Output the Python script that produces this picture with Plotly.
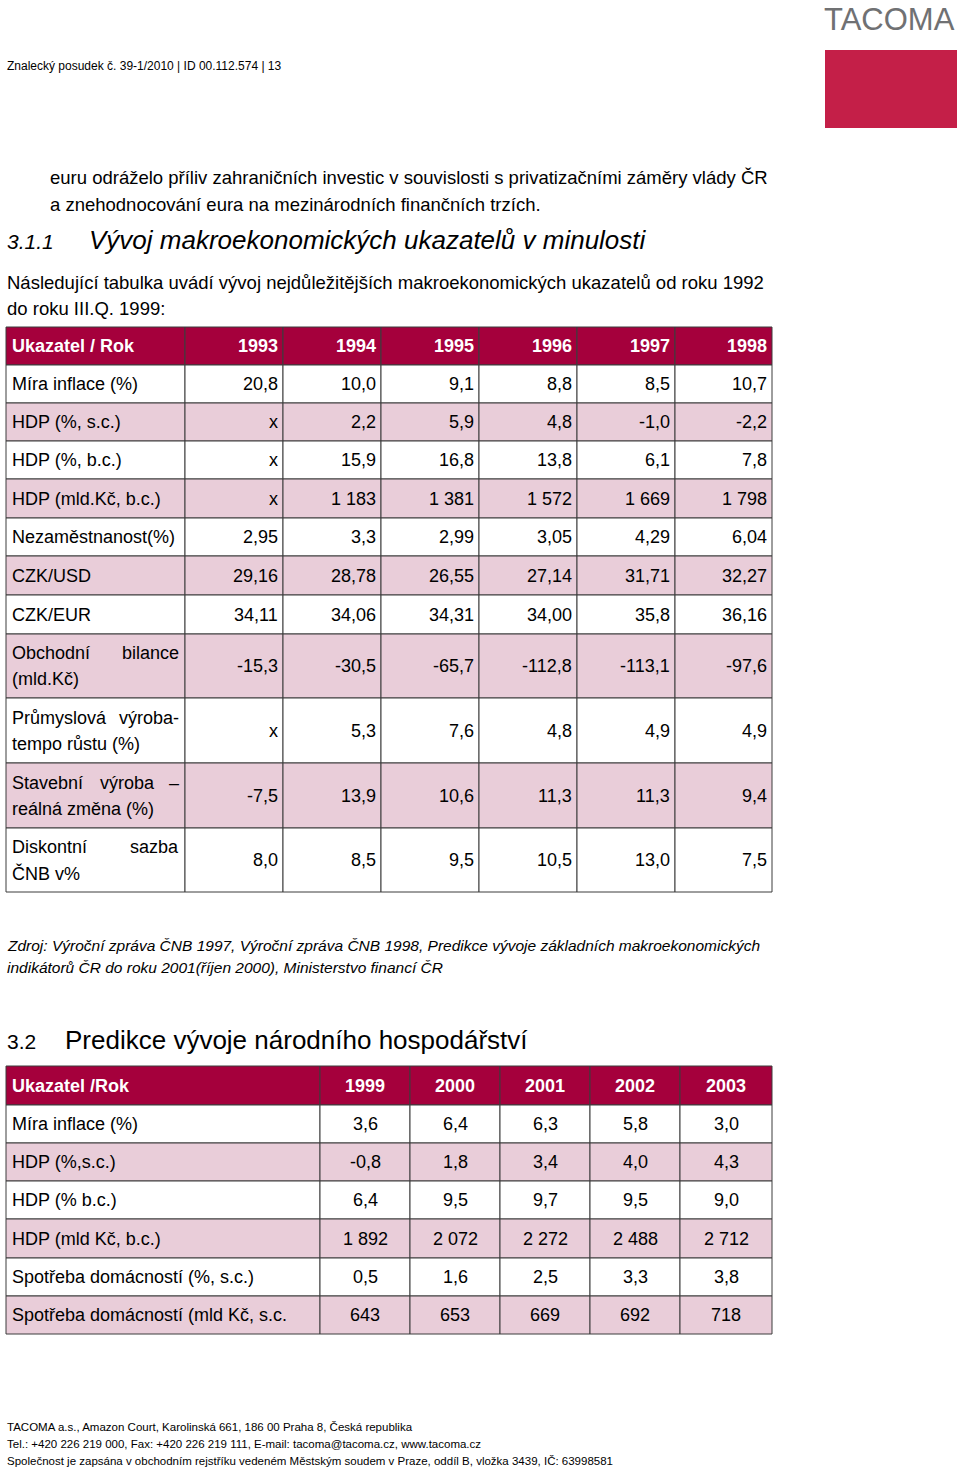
import plotly.graph_objects as go

W, H = 960, 1468
FONT = "Liberation Sans"
HEAD_RED = "#a5003c"
LOGO_RED = "#c41f48"
PINK = "#e9cdd9"
GRID = "#3c3c3c"

# ---- table 1: Vývoj makroekonomických ukazatelů v minulosti
years_1 = ["1993", "1994", "1995", "1996", "1997", "1998"]
labels_1 = [
    "Míra inflace (%)",
    "HDP (%, s.c.)",
    "HDP (%, b.c.)",
    "HDP (mld.Kč, b.c.)",
    "Nezaměstnanost(%)",
    "CZK/USD",
    "CZK/EUR",
    "Obchodní bilance\n(mld.Kč)",
    "Průmyslová výroba-\ntempo růstu (%)",
    "Stavební výroba –\nreálná změna (%)",
    "Diskontní sazba\nČNB v%",
]
inflace_1 = ["20,8", "10,0", "9,1", "8,8", "8,5", "10,7"]
hdp_sc_1 = ["x", "2,2", "5,9", "4,8", "-1,0", "-2,2"]
hdp_bc_1 = ["x", "15,9", "16,8", "13,8", "6,1", "7,8"]
hdp_mld_1 = ["x", "1 183", "1 381", "1 572", "1 669", "1 798"]
nezam_1 = ["2,95", "3,3", "2,99", "3,05", "4,29", "6,04"]
czk_usd_1 = ["29,16", "28,78", "26,55", "27,14", "31,71", "32,27"]
czk_eur_1 = ["34,11", "34,06", "34,31", "34,00", "35,8", "36,16"]
bilance_1 = ["-15,3", "-30,5", "-65,7", "-112,8", "-113,1", "-97,6"]
prumysl_1 = ["x", "5,3", "7,6", "4,8", "4,9", "4,9"]
staveb_1 = ["-7,5", "13,9", "10,6", "11,3", "11,3", "9,4"]
diskont_1 = ["8,0", "8,5", "9,5", "10,5", "13,0", "7,5"]
values_1 = [inflace_1, hdp_sc_1, hdp_bc_1, hdp_mld_1, nezam_1, czk_usd_1,
            czk_eur_1, bilance_1, prumysl_1, staveb_1, diskont_1]

# ---- table 2: Predikce vývoje národního hospodářství
years_2 = ["1999", "2000", "2001", "2002", "2003"]
labels_2 = [
    "Míra inflace (%)",
    "HDP (%,s.c.)",
    "HDP (% b.c.)",
    "HDP (mld Kč, b.c.)",
    "Spotřeba domácností (%, s.c.)",
    "Spotřeba domácností (mld Kč, s.c.",
]
inflace_2 = ["3,6", "6,4", "6,3", "5,8", "3,0"]
hdp_sc_2 = ["-0,8", "1,8", "3,4", "4,0", "4,3"]
hdp_bc_2 = ["6,4", "9,5", "9,7", "9,5", "9,0"]
hdp_mld_2 = ["1 892", "2 072", "2 272", "2 488", "2 712"]
spotreba_pct_2 = ["0,5", "1,6", "2,5", "3,3", "3,8"]
spotreba_mld_2 = ["643", "653", "669", "692", "718"]
values_2 = [inflace_2, hdp_sc_2, hdp_bc_2, hdp_mld_2, spotreba_pct_2, spotreba_mld_2]

# layout of the tables (pixels)
cols_1 = [6, 185, 283, 381, 479, 577, 675, 772]
rows_1 = [38, 38, 38, 38, 39, 38, 39, 39, 64, 65, 65, 64]
top_1 = 327
cols_2 = [6, 320, 410, 500, 590, 680, 772]
rows_2 = [39, 38, 38, 38, 39, 38, 38]
top_2 = 1066

shapes = []
annots = []


def txt(x, y, s, size, color="black", anchor="left", bold=False, italic=False):
    annots.append(dict(
        x=x, y=y, xref="x", yref="y", text=s, showarrow=False,
        xanchor=anchor, yanchor="middle", borderpad=0,
        font=dict(family=FONT, size=size, color=color,
                  weight="bold" if bold else "normal",
                  style="italic" if italic else "normal")))


def cell(x0, x1, y0, y1, fill):
    shapes.append(dict(type="rect", xref="x", yref="y", x0=x0, x1=x1, y0=y0, y1=y1,
                       fillcolor=fill, line=dict(color=GRID, width=1), layer="below"))


def justified(x0, x1, y, line, size):
    # first word flush left, last word flush right, the rest spread evenly
    words = line.split()
    if len(words) == 1:
        txt(x0, y, words[0], size)
        return
    widths = [len(w) * size * 0.5 for w in words]
    gap = (x1 - x0 - sum(widths)) / (len(words) - 1)
    txt(x0, y, words[0], size)
    txt(x1, y, words[-1], size, anchor="right")
    pos = x0 + widths[0] + gap
    for w, wd in zip(words[1:-1], widths[1:-1]):
        txt(pos + wd / 2, y, w, size, anchor="center")
        pos += wd + gap


def table(cols, rows, top, years, labels, values, center_vals):
    size = 18
    edges = [top]
    for h in rows:
        edges.append(edges[-1] + h)
    # header
    y0, y1 = edges[0], edges[1]
    for c in range(len(cols) - 1):
        cell(cols[c], cols[c + 1], y0, y1, HEAD_RED)
    ym = (y0 + y1) / 2
    txt(cols[0] + 5, ym, labels[0], size, "white", bold=True)
    for c, yr in enumerate(years):
        if center_vals:
            txt((cols[c + 1] + cols[c + 2]) / 2, ym, yr, size, "white", "center", bold=True)
        else:
            txt(cols[c + 2] - 4, ym, yr, size, "white", "right", bold=True)
    # body
    for r, (lab, vals) in enumerate(zip(labels[1:], values)):
        y0, y1 = edges[r + 1], edges[r + 2]
        fill = "white" if r % 2 == 0 else PINK
        for c in range(len(cols) - 1):
            cell(cols[c], cols[c + 1], y0, y1, fill)
        ym = (y0 + y1) / 2
        lines = lab.split("\n")
        if len(lines) == 1:
            txt(cols[0] + 5, ym, lab, size)
        else:
            lh = 26
            for i, ln in enumerate(lines):
                ly = ym + (i - (len(lines) - 1) / 2) * lh
                if i < len(lines) - 1:
                    justified(cols[0] + 5, cols[1] - 5, ly, ln, size)
                else:
                    txt(cols[0] + 5, ly, ln, size)
        for c, v in enumerate(vals):
            if center_vals:
                txt((cols[c + 1] + cols[c + 2]) / 2, ym, v, size, anchor="center")
            else:
                txt(cols[c + 2] - 4, ym, v, size, anchor="right")


table(cols_1, rows_1, top_1, years_1, ["Ukazatel / Rok"] + labels_1, values_1, False)
table(cols_2, rows_2, top_2, years_2, ["Ukazatel /Rok"] + labels_2, values_2, True)

# page furniture
shapes.append(dict(type="rect", xref="x", yref="y", x0=825, x1=957, y0=50, y1=128,
                   fillcolor=LOGO_RED, line=dict(width=0)))
txt(956, 19, "TACOMA", 31, "#707173", "right")
txt(6, 66, "Znalecký posudek č. 39-1/2010 | ID 00.112.574 | 13", 12)

txt(49, 177, "euru odráželo příliv zahraničních investic v souvislosti s privatizačními záměry vlády ČR", 18.5)
txt(49, 204, "a znehodnocování eura na mezinárodních finančních trzích.", 18.5)

txt(6, 241, "3.1.1", 21, italic=True)
txt(88, 240, "Vývoj makroekonomických ukazatelů v minulosti", 26, italic=True)

txt(6, 282, "Následující tabulka uvádí vývoj nejdůležitějších makroekonomických ukazatelů od roku 1992", 18.5)
txt(6, 308, "do roku III.Q. 1999:", 18.5)

txt(6, 945, "Zdroj: Výroční zpráva ČNB 1997, Výroční zpráva ČNB 1998, Predikce vývoje základních makroekonomických", 15.5, italic=True)
txt(6, 967, "indikátorů ČR do roku 2001(říjen 2000), Ministerstvo financí ČR", 15.5, italic=True)

txt(6, 1041, "3.2", 21)
txt(64, 1040, "Predikce vývoje národního hospodářství", 26)

txt(6, 1427, "TACOMA a.s., Amazon Court, Karolinská 661, 186 00 Praha 8, Česká republika", 11.5)
txt(6, 1444, "Tel.: +420 226 219 000, Fax: +420 226 219 111, E-mail: tacoma@tacoma.cz, www.tacoma.cz", 11.5)
txt(6, 1461, "Společnost je zapsána v obchodním rejstříku vedeném Městským soudem v Praze, oddíl B, vložka 3439, IČ: 63998581", 11.5)

fig = go.Figure()
fig.update_layout(
    width=W, height=H, margin=dict(l=0, r=0, t=0, b=0),
    paper_bgcolor="white", plot_bgcolor="white",
    xaxis=dict(range=[0, W], visible=False, fixedrange=True),
    yaxis=dict(range=[H, 0], visible=False, fixedrange=True),
    shapes=shapes, annotations=annots, showlegend=False,
)
fig.write_html("out.html", config={"displayModeBar": False},
               post_script="document.body.style.margin='0';document.body.style.overflow='hidden';")
